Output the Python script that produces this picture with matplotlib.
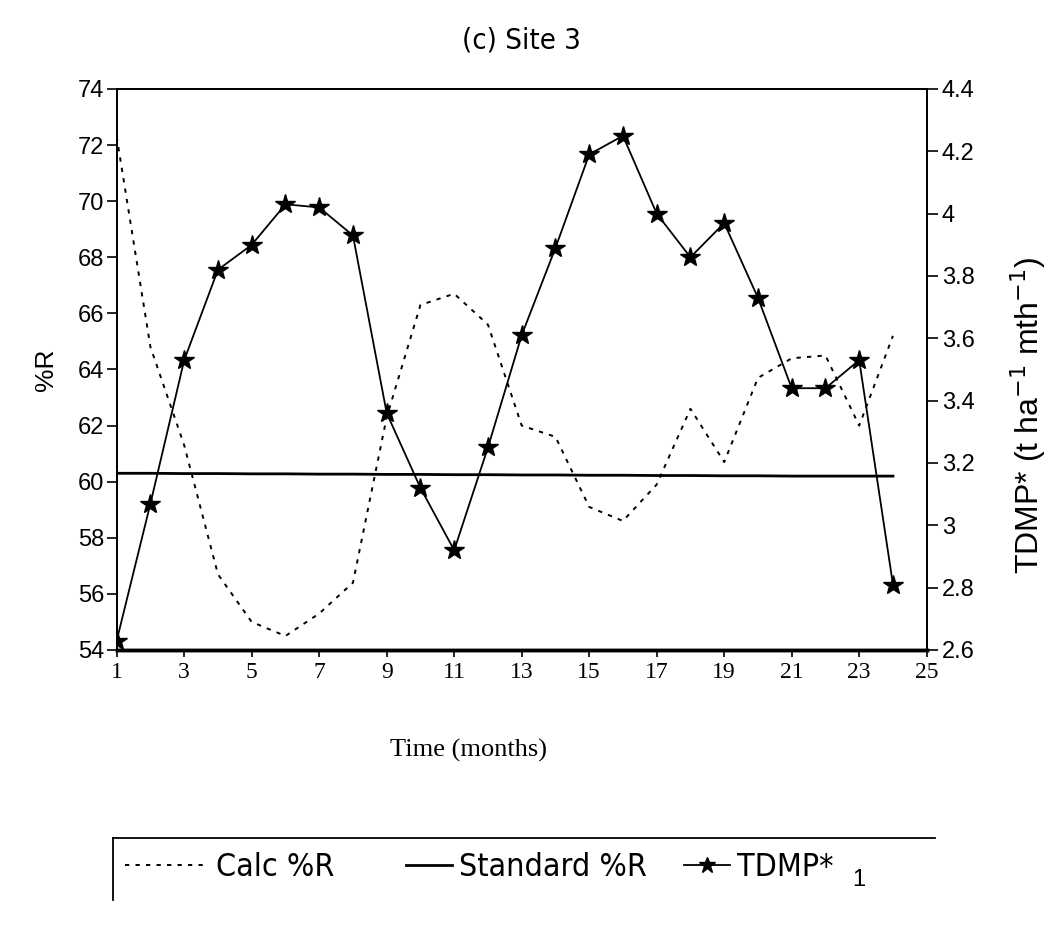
import matplotlib
matplotlib.use("Agg")
import matplotlib.pyplot as plt
from matplotlib.lines import Line2D
from matplotlib import font_manager

months = list(range(1, 25))
calc_r = [72.3, 64.8, 61.3, 56.7, 55.0, 54.5, 55.3, 56.4, 62.3, 66.3, 66.7, 65.6,
          62.0, 61.6, 59.1, 58.6, 59.9, 62.6, 60.7, 63.7, 64.4, 64.5, 62.0, 65.2]
standard_r = [60.30, 60.30, 60.29, 60.29, 60.28, 60.28, 60.27, 60.27, 60.26, 60.26, 60.25, 60.25,
              60.24, 60.24, 60.23, 60.23, 60.22, 60.22, 60.21, 60.21, 60.20, 60.20, 60.20, 60.20]
tdmp = [2.63, 3.07, 3.53, 3.82, 3.90, 4.03, 4.02, 3.93, 3.36, 3.12, 2.92, 3.25,
        3.61, 3.89, 4.19, 4.25, 4.00, 3.86, 3.97, 3.73, 3.44, 3.44, 3.53, 2.81]
x_ticks = list(range(1, 26, 2))
left_ticks = list(range(54, 75, 2))
right_ticks = [2.6, 2.8, 3.0, 3.2, 3.4, 3.6, 3.8, 4.0, 4.2, 4.4]
right_labels = ["2.6", "2.8", "3", "3.2", "3.4", "3.6", "3.8", "4", "4.2", "4.4"]
legend_labels = ["Calc %R", "Standard %R", "TDMP*"]

W, H = 1061, 927
fig = plt.figure(figsize=(W / 100, H / 100), dpi=100)
L, R, T, B = 116.7, 926.7, 89, 650
ax = fig.add_axes([L / W, 1 - B / H, (R - L) / W, (B - T) / H])
ax2 = ax.twinx()

sans = ["Liberation Sans", "DejaVu Sans"]
serif = ["Liberation Serif", "DejaVu Serif"]

l_calc, = ax.plot(months, calc_r, color="black", lw=1.4, linestyle=(0, (2.2, 3.2)))
l_std, = ax.plot(months, standard_r, color="black", lw=2.0)
l_tdmp, = ax2.plot(months, tdmp, color="black", lw=1.3, marker="*", markersize=15,
                   markerfacecolor="black", markeredgecolor="black")

ax.set_xlim(1, 25)
ax.set_ylim(54, 74)
ax2.set_ylim(2.6, 4.4)

ax.set_xticks(x_ticks)
ax.set_xticklabels([str(v) for v in x_ticks], fontfamily=serif, fontsize=17)
ax.set_yticks(left_ticks)
ax.set_yticklabels([str(v) for v in left_ticks], fontfamily=sans, fontsize=17)
ax2.set_yticks(right_ticks)
ax2.set_yticklabels(right_labels, fontfamily=sans, fontsize=17)

ax.tick_params(axis="x", direction="out", length=5, width=1.2, pad=4)
ax.tick_params(axis="y", direction="out", length=7, width=1.2, pad=2)
ax2.tick_params(axis="y", direction="out", length=8, width=1.2, pad=3)

for a in (ax, ax2):
    for s in ("left", "right", "top"):
        a.spines[s].set_linewidth(1.3)
    a.spines["bottom"].set_linewidth(2.5)

ax.set_ylabel("%R", fontfamily=sans, fontsize=19, labelpad=14)
ax2.set_ylabel("TDMP* (t ha$^{-1}$ mth$^{-1}$)", fontfamily=sans, fontsize=23)
ax2.yaxis.set_label_coords((1008 - L) / (R - L), (B - 415) / (B - T))

fig.text(521 / W, 1 - 40 / H, "(c) Site 3", ha="center", va="center",
         fontfamily="DejaVu Sans", fontstretch="condensed", fontsize=21)
fig.text(468 / W, 1 - 750 / H, "Time (months)", ha="center", va="center",
         fontfamily=serif, fontsize=19)

# legend frame (partial box as in the reference)
fig.add_artist(Line2D([113 / W, 935 / W], [1 - 838 / H, 1 - 838 / H], color="black", lw=1.3))
fig.add_artist(Line2D([113 / W, 113 / W], [1 - 838 / H, 1 - 900 / H], color="black", lw=1.3))

leg_font = font_manager.FontProperties(family="DejaVu Sans", stretch="condensed", size=23)
legend_specs = [
    (l_calc, legend_labels[0], 125, 2.5, 0.35),
    (l_std, legend_labels[1], 406, 1.45, 0.2),
    (l_tdmp, legend_labels[2], 684, 1.45, 0.2),
]
for handle, label, x0, hl, pad in legend_specs:
    lg = fig.legend([handle], [label], loc="center left",
                    bbox_to_anchor=(x0 / W, 1 - 868 / H), frameon=False, prop=leg_font,
                    borderpad=0, borderaxespad=0, handlelength=hl, handletextpad=pad,
                    markerscale=0.8)
fig.text(852 / W, 1 - 880 / H, "1", fontfamily=sans, fontsize=17, ha="left", va="center")

fig.savefig("out.png", dpi=100)
